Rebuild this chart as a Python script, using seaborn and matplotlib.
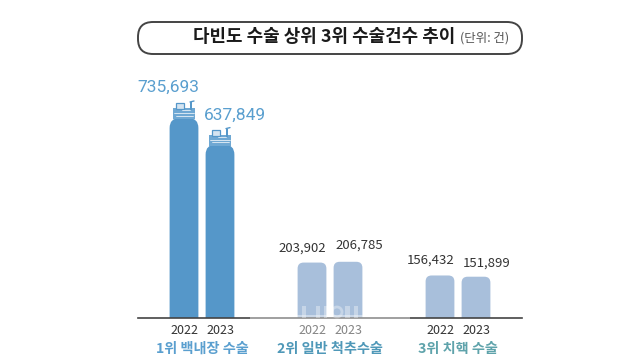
import pandas as pd
import numpy as np
import matplotlib
matplotlib.use("Agg")
import matplotlib.pyplot as plt
from matplotlib.patches import FancyBboxPatch, Rectangle, Circle
import seaborn as sns

surgeries = ["1위 백내장 수술", "2위 일반 척추수술", "3위 치핵 수술"]
years = ["2022", "2023"]
counts_2022 = [735693, 203902, 156432]
counts_2023 = [637849, 206785, 151899]

title = "다빈도 수술 상위 3위 수술건수 추이"
unit = "(단위: 건)"

W, H = 640, 360
BLUE = "#5597c9"
PALE = "#a8bfdb"
label_colors = ["#5a9fcf", "#4f98b8", "#5fa3ab"]
# where each number sits relative to its bar top, in pixels
label_shift = {"2022": [(-16, 31), (-10, 14), (-9, 15)],
               "2023": [(15, 29), (11, 17), (11, 14)]}

df = pd.DataFrame({
    "surgery": surgeries * 2,
    "year": [years[0]] * 3 + [years[1]] * 3,
    "count": counts_2022 + counts_2023,
})

sns.set_theme(style="white")
plt.rcParams['font.family'] = ['Noto Sans CJK KR', 'DejaVu Sans']

fig = plt.figure(figsize=(6.4, 3.6), dpi=100)
ax = fig.add_axes([138 / W, (H - 318) / H, 384 / W, 230 / H])
sns.barplot(data=df, x="surgery", y="count", hue="year", width=0.5625, gap=0.2,
            legend=False, ax=ax)
ax.set_xlim(-0.5, 2.5)
ax.set_ylim(0, 735693 * 230 / 200)
ax.set_xlabel("")
ax.set_ylabel("")
ax.set_yticks([])
ax.tick_params(axis="x", length=0, pad=17)
for lab, c in zip(ax.get_xticklabels(), label_colors):
    lab.set_fontsize(10.2)
    lab.set_color(c)
    lab.set_fontweight("bold")
for s in ["top", "left", "right"]:
    ax.spines[s].set_visible(False)
ax.spines["bottom"].set_color("#444444")
ax.spines["bottom"].set_linewidth(1.2)
ax.patch.set_alpha(0)

# pixel overlay for the frame and small drawings
top = fig.add_axes([0, 0, 1, 1], zorder=5)
top.set_xlim(0, W)
top.set_ylim(H, 0)
top.axis("off")


def draw_cap(cx, y):
    # the little sketch sitting on the blue bars
    top.add_patch(Rectangle((cx - 11, y - 10), 22, 11, fc="#6fa8d3", ec="none"))
    top.add_patch(Rectangle((cx - 8, y - 15), 8, 6, fc="#d5e4f1", ec="#5597c9", lw=0.9))
    top.add_patch(Rectangle((cx + 6, y - 16), 2, 8, fc="#5597c9", ec="none"))
    top.plot([cx + 6, cx + 10], [y - 16, y - 17], color="#5597c9", lw=1)
    top.plot([cx - 10, cx + 10], [y - 5, y - 5], color="white", lw=0.5)
    top.plot([cx - 8, cx + 9], [y - 2.5, y - 2.5], color="white", lw=0.5)
    top.plot([cx - 2, cx + 6], [y - 8, y - 8], color="white", lw=0.5)


# swap the square bars for rounded ones
yscale = ax.get_ylim()[1] / 230
xscale = 3 / 384
for cont, yr in zip(ax.containers, years):
    for i, bar in enumerate(cont):
        x, w, h = bar.get_x(), bar.get_width(), bar.get_height()
        bar.set_visible(False)
        rad = 10 if i == 0 else 6
        below = rad * yscale
        r = FancyBboxPatch((x, -below), w, h + below, boxstyle="round,pad=0",
                           fc=BLUE if i == 0 else PALE, ec="none", zorder=2)
        r.set_boxstyle("round", pad=0, rounding_size=rad * xscale)
        r.set_mutation_aspect(yscale / xscale)
        ax.add_patch(r)
        cx = x + w / 2
        ax.annotate(yr, (cx, 0), xytext=(0, -13), textcoords="offset pixels",
                    ha="center", va="center", fontsize=9, color="#333333",
                    annotation_clip=False)
        big = i == 0
        ax.annotate(f"{int(h):,}", (cx, h), xytext=label_shift[yr][i],
                    textcoords="offset pixels", ha="center", va="center",
                    fontsize=12.5 if big else 9.5,
                    color="#5a9fcf" if big else "#333333",
                    family=['Roboto', 'DejaVu Sans'] if big else ['Noto Sans CJK KR', 'DejaVu Sans'],
                    annotation_clip=False)
        if big:
            px = ax.transData.transform((cx, h))
            draw_cap(px[0], H - px[1])

# title frame
top.add_patch(FancyBboxPatch((138, 22), 384, 32, boxstyle="round,pad=0,rounding_size=15",
                             fc="none", ec="#444444", lw=1.4))
top.text(193, 37, title, fontsize=12.9, fontweight="bold", color="#1a1a1a", va="center")
top.text(460, 38, unit, fontsize=9, fontweight="light", color="#555555", va="center")

# faint watermark washing over the bottom of the middle group
top.add_patch(Rectangle((250, 315), 160, 24, fc="white", ec="none", alpha=0.4))
for bx, bw in [(302, 4), (316, 4), (324, 3), (345, 5), (354, 4)]:
    top.add_patch(Rectangle((bx, 306), bw, 12, fc="white", ec="none", alpha=0.35))
top.add_patch(Circle((337, 312), 5, fc="none", ec="white", lw=2, alpha=0.35))

fig.savefig("out.png", dpi=100)
